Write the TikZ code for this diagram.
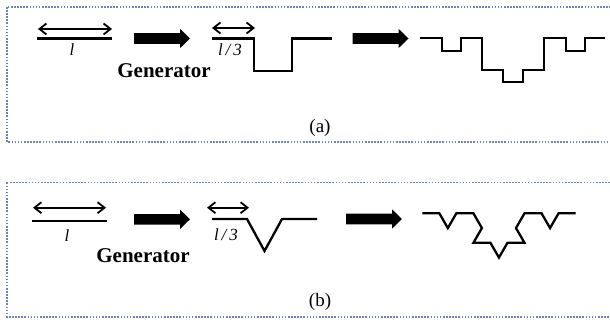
\documentclass[tikz,border=0pt]{standalone}
\usepackage{fontspec}
\setmainfont{Liberation Serif}
\usetikzlibrary{arrows.meta}
\definecolor{dotcol}{RGB}{110,132,182}
\begin{document}
\begin{tikzpicture}[x=1pt,y=-1pt,
  framebox/.style={draw=dotcol,line width=1.5pt,dash pattern=on 1.6pt off 1.5pt},
  curve/.style={line width=2.3pt,line join=miter},
  seg/.style={line width=2.2pt},
  dimarrow/.style={line width=1.8pt,{Straight Barb[length=7pt,width=11pt]}-{Straight Barb[length=7pt,width=11pt]}},
  lab/.style={font=\fontsize{17}{17}\selectfont\itshape,inner sep=0pt},
  gen/.style={font=\fontsize{21}{21}\selectfont\bfseries,inner sep=0pt},
  captxt/.style={font=\fontsize{19}{19}\selectfont,inner sep=0pt},
  bigarrow/.pic={\fill (0,-5.3)--(46,-5.3)--(46,-9.7)--(56,0)--(46,9.7)--(46,5.3)--(0,5.3)--cycle;}]
\useasboundingbox (0,0) rectangle (610,323);
\fill[white] (0,0) rectangle (610,323);
\clip (0,0) rectangle (610,323);

% ---------- panel (a) ----------
\draw[framebox] (7,7) rectangle (625,142);
\coordinate (a1) at (37,38.5); \coordinate (a2) at (112,38.5);
\draw[seg] (a1) -- (a2);
\coordinate (da1) at (38,29); \coordinate (da2) at (112,29);
\draw[dimarrow] (da1) -- (da2);
\node[lab] (la) at (72,50) {l};
\pic at (134,38.5) {bigarrow};
\node[gen] (gena) at (164,71) {Generator};
\draw[curve] (212,38.5) -- (254,38.5) -- (254,71) -- (292,71) -- (292,38.5) -- (332,38.5);
\coordinate (db1) at (212,28); \coordinate (db2) at (255,28);
\draw[dimarrow] (db1) -- (db2);
\node[lab] (l3a) at (230,50) {l\,/\,3};
\pic at (352.5,38.5) {bigarrow};
\draw[curve] (420,38.3) -- (441.7,38.3) -- (441.7,50.7) -- (461,50.7) -- (461,38.3)
  -- (481.7,38.3) -- (481.7,70) -- (503.3,70) -- (503.3,82.3) -- (522.7,82.3)
  -- (522.7,70) -- (544.3,70) -- (544.3,38.3) -- (565.7,38.3) -- (565.7,50.7)
  -- (585,50.7) -- (585,38.3) -- (605,38.3);
\node[captxt] (capa) at (320,128) {(a)};

% ---------- panel (b) ----------
\draw[framebox] (7,182.5) rectangle (625,317);
\coordinate (b1) at (32,220.7); \coordinate (b2) at (107,220.7);
\draw[seg] (b1) -- (b2);
\coordinate (dc1) at (33,207.7); \coordinate (dc2) at (106,207.7);
\draw[dimarrow] (dc1) -- (dc2);
\node[lab] (lb) at (67,236) {l};
\pic at (134,219.3) {bigarrow};
\node[gen] (genb) at (143,256) {Generator};
\draw[curve] (212,219) -- (247,219) -- (264.5,251) -- (282,219) -- (317,219);
\coordinate (dd1) at (207,207.7); \coordinate (dd2) at (249,207.7);
\draw[dimarrow] (dd1) -- (dd2);
\node[lab] (l3b) at (226,235) {l\,/\,3};
\pic at (346,219) {bigarrow};
\begin{scope}[shift={(422.3,213.3)},x=51.1pt,y=-51.1pt]
\draw[curve] (0,0) -- (0.3333,0) -- (0.5,0.2887) -- (0.6667,0) -- (1,0)
  -- (1.1667,0.2887) -- (1.0,0.5774) -- (1.3333,0.5774) -- (1.5,0.866)
  -- (1.6667,0.5774) -- (2.0,0.5774) -- (1.8333,0.2887) -- (2,0)
  -- (2.3333,0) -- (2.5,0.2887) -- (2.6667,0) -- (3,0);
\end{scope}
\node[captxt] (capb) at (320,302) {(b)};
\end{tikzpicture}
\end{document}
